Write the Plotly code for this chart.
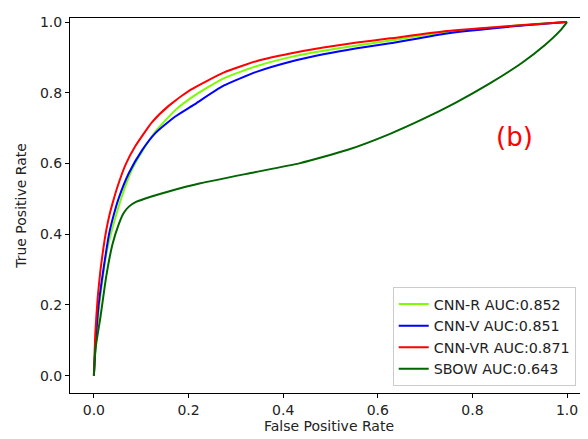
import plotly.graph_objects as go

# CNN-R
cnnr_fpr = [0, 0.007, 0.017, 0.028, 0.044, 0.061, 0.081, 0.102, 0.13, 0.172, 0.21, 0.274, 0.345, 0.415, 0.485, 0.556, 0.626, 0.746, 0.887, 1.0]
cnnr_tpr = [0, 0.139, 0.261, 0.356, 0.44, 0.515, 0.584, 0.634, 0.69, 0.751, 0.79, 0.841, 0.876, 0.901, 0.919, 0.934, 0.948, 0.972, 0.99, 1.0]
# CNN-V
cnnv_fpr = [0, 0.004, 0.01, 0.021, 0.032, 0.042, 0.052, 0.074, 0.102, 0.13, 0.172, 0.21, 0.274, 0.345, 0.415, 0.485, 0.556, 0.626, 0.746, 0.887, 1.0]
cnnv_tpr = [0, 0.1, 0.2, 0.308, 0.4, 0.455, 0.5, 0.573, 0.638, 0.686, 0.733, 0.765, 0.82, 0.86, 0.888, 0.909, 0.926, 0.94, 0.968, 0.988, 1.0]
# CNN-VR
cnnvr_fpr = [0, 0.003, 0.008, 0.014, 0.02, 0.026, 0.033, 0.04, 0.05, 0.067, 0.088, 0.123, 0.158, 0.204, 0.274, 0.345, 0.415, 0.485, 0.556, 0.626, 0.746, 0.887, 1.0]
cnnvr_tpr = [0, 0.12, 0.22, 0.3, 0.36, 0.41, 0.455, 0.49, 0.535, 0.597, 0.65, 0.717, 0.763, 0.808, 0.857, 0.89, 0.911, 0.928, 0.942, 0.954, 0.975, 0.99, 1.0]
# SBOW
sbow_fpr = [0, 0.003, 0.014, 0.026, 0.039, 0.053, 0.063, 0.074, 0.09, 0.12, 0.158, 0.225, 0.331, 0.436, 0.535, 0.626, 0.696, 0.766, 0.835, 0.905, 0.954, 0.985, 1.0]
sbow_tpr = [0, 0.073, 0.167, 0.28, 0.37, 0.43, 0.46, 0.478, 0.492, 0.506, 0.521, 0.544, 0.573, 0.601, 0.638, 0.684, 0.726, 0.773, 0.825, 0.885, 0.936, 0.975, 1.0]

series_names = ["CNN-R AUC:0.852", "CNN-V AUC:0.851", "CNN-VR AUC:0.871", "SBOW AUC:0.643"]
series_colors = ["#7CFC00", "#0000FF", "#FF0000", "#006400"]
series_data = [(cnnr_fpr, cnnr_tpr), (cnnv_fpr, cnnv_tpr), (cnnvr_fpr, cnnvr_tpr), (sbow_fpr, sbow_tpr)]

tick_vals = [0.0, 0.2, 0.4, 0.6, 0.8, 1.0]
tick_text = ["0.0", "0.2", "0.4", "0.6", "0.8", "1.0"]

FONT = "DejaVu Sans"

fig = go.Figure()
for (fx, ty), name, col in zip(series_data, series_names, series_colors):
    fig.add_trace(go.Scatter(x=fx, y=ty, mode="lines", name=name, cliponaxis=False,
                             line=dict(color=col, width=2, shape="spline", smoothing=0.5)))

fig.add_annotation(x=0.888, y=0.675, xref="x", yref="y", text="(b)", showarrow=False,
                   font=dict(family=FONT, size=26, color="#FF0000"))

axis_common = dict(showgrid=False, zeroline=False, showline=True, linecolor="black", linewidth=1,
                   ticks="outside", ticklen=4, tickwidth=1, tickcolor="black", automargin=False,
                   tickfont=dict(family=FONT, size=14, color="#222"),
                   tickvals=tick_vals, ticktext=tick_text)

fig.update_layout(
    width=580, height=431,
    margin=dict(l=61.5, r=0, t=10, b=46),
    paper_bgcolor="white", plot_bgcolor="white",
    font=dict(family=FONT, size=14, color="#222"),
    xaxis=dict(range=[-0.0505, 1.0443], mirror=True,
               title=dict(text="False Positive Rate", font=dict(family=FONT, size=14), standoff=3),
               **axis_common),
    yaxis=dict(range=[-0.0492, 1.0116], mirror=False,
               title=dict(text="True Positive Rate", font=dict(family=FONT, size=14), standoff=10),
               **axis_common),
    legend=dict(x=0.623, y=0.018, xanchor="left", yanchor="bottom",
                bgcolor="white", bordercolor="#cccccc", borderwidth=1,
                font=dict(family=FONT, size=14.3, color="#222"),
                itemwidth=30, tracegroupgap=0),
    showlegend=True,
)

fig.write_html("out.html")
